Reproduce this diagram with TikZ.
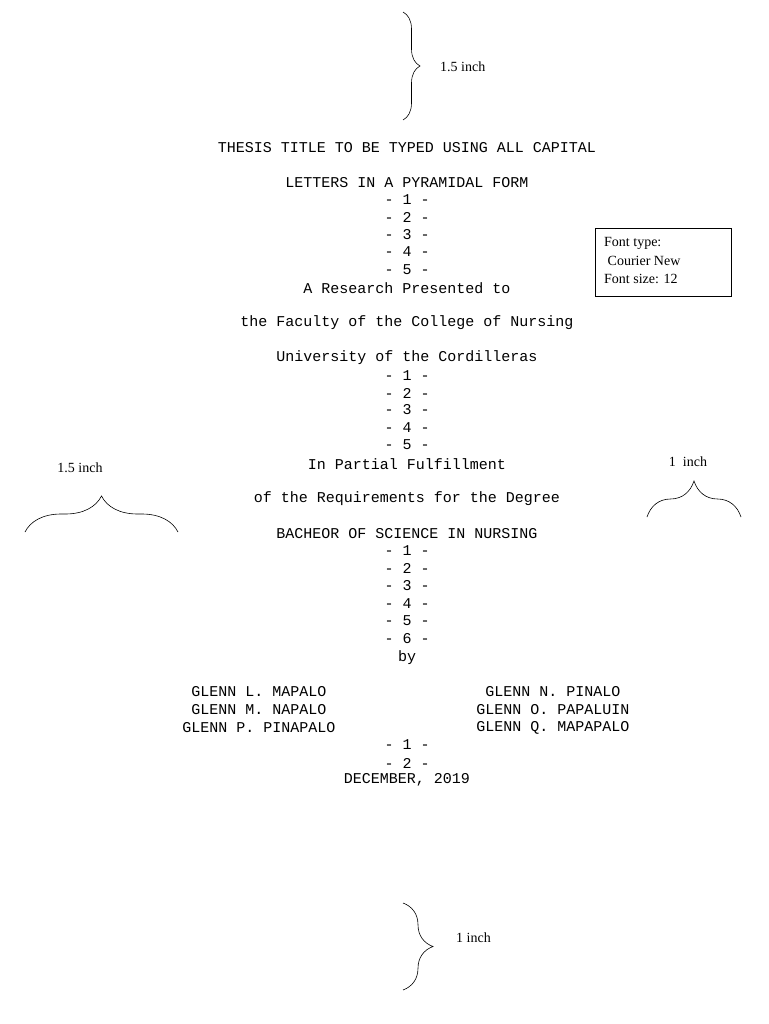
\documentclass[tikz,border=0pt]{standalone}
\usepackage{fontspec}
\setmainfont{Liberation Serif}
\newfontfamily\cour{Liberation Mono}
\usetikzlibrary{decorations.pathreplacing}
\begin{document}
\begin{tikzpicture}[x=1pt,y=-1pt,
  mono/.style={font=\cour\fontsize{15}{17}\selectfont,inner sep=0pt},
  lab/.style={font=\fontsize{14}{16}\selectfont,inner sep=0pt},
  br/.style={decorate,decoration={brace,amplitude=#1},line width=0.6pt}]
\useasboundingbox (0,0) rectangle (768,1024);
% braces
\coordinate (t1) at (403,12); \coordinate (t2) at (403,120);
\draw[br=17] (t1) -- (t2);
\node[lab,anchor=west] (tl) at (440,67) {1.5 inch};
\coordinate (b1) at (403,903); \coordinate (b2) at (403,990);
\draw[br=30] (b1) -- (b2);
\node[lab,anchor=west] (bl) at (456,938) {1 inch};
\coordinate (l1) at (25,532); \coordinate (l2) at (178,532);
\draw[br=36] (l1) -- (l2);
\node[lab] (ll) at (80,468) {1.5 inch};
\coordinate (r1) at (647,517); \coordinate (r2) at (741,517);
\draw[br=36] (r1) -- (r2);
\node[lab] (rl) at (688,462) {1\ \ inch};
% box
\node[draw,line width=0.6pt,minimum width=136pt,minimum height=68pt,inner sep=0pt] (box) at (663,262) {};
\node[lab,anchor=west] (f1) at (604,243) {Font type:};
\node[lab,anchor=west] (f2) at (604,261) {\ Courier New};
\node[lab,anchor=west] (f3) at (604,279) {Font size: 12};
% main text
\foreach \t/\y [count=\i] in {
 THESIS TITLE TO BE TYPED USING ALL CAPITAL/148,
 LETTERS IN A PYRAMIDAL FORM/183,
 - 1 -/200, - 2 -/217, - 3 -/235, - 4 -/252, - 5 -/270,
 A Research Presented to/288,
 the Faculty of the College of Nursing/323,
 University of the Cordilleras/358,
 - 1 -/376, - 2 -/393, - 3 -/410, - 4 -/428, - 5 -/445,
 In Partial Fulfillment/464,
 of the Requirements for the Degree/499,
 BACHEOR OF SCIENCE IN NURSING/534,
 - 1 -/551, - 2 -/568, - 3 -/586, - 4 -/604, - 5 -/621, - 6 -/639,
 by/658,
 - 1 -/745, - 2 -/763,
 {DECEMBER, 2019}/780}
 \node[mono] (m\i) at (407,\y) {\t};
\foreach \t/\y [count=\i] in {GLENN L. MAPALO/692, GLENN M. NAPALO/710, GLENN P. PINAPALO/728}
 \node[mono] (a\i) at (259,\y) {\t};
\foreach \t/\y [count=\i] in {GLENN N. PINALO/692, GLENN O. PAPALUIN/710, GLENN Q. MAPAPALO/728}
 \node[mono] (c\i) at (553,\y) {\t};
\end{tikzpicture}
\end{document}
